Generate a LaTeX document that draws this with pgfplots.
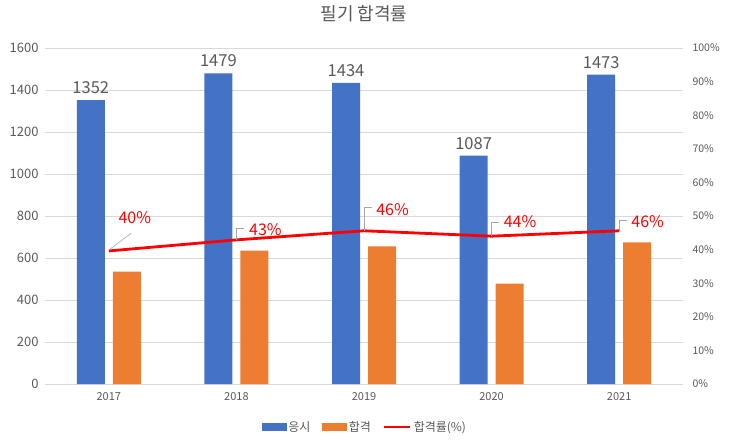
\documentclass[border=0pt]{standalone}
\usepackage{pgfplots}
\pgfplotsset{compat=1.18}
\usepackage{fontspec}
\setmainfont{Noto Sans CJK KR}
\definecolor{cblue}{HTML}{4472C4}
\definecolor{corange}{HTML}{ED7D31}
\definecolor{cred}{HTML}{FF0000}
\definecolor{tgray}{HTML}{595959}
\definecolor{ggray}{HTML}{D9D9D9}
\definecolor{lgray}{HTML}{A6A6A6}
\pgfplotsset{/pgf/number format/1000 sep={}}
\pgfplotstableread{
x  apply pass
0  1352  535
1  1479  635
2  1434  655
3  1087  478
4  1473  675
}\bars
\pgfplotstableread{
x  rate  dx    dy
0  39.6  26    26
1  42.9  29    3
2  45.6  28.5  13.7
3  44.0  28.5  7
4  45.6  28.5  2.0
}\rates
\begin{document}
\begin{tikzpicture}[x=1pt,y=1pt]
\path[use as bounding box] (0,0) rectangle (730,440);
\begin{axis}[
  at={(45pt,56pt)}, anchor=south west, scale only axis,
  width=638pt, height=336pt,
  xmin=-0.5, xmax=4.5, ymin=0, ymax=1600,
  ytick={0,200,...,1600},
  xtick={0,1,2,3,4}, xticklabels={2017,2018,2019,2020,2021},
  axis x line*=bottom, axis y line*=left,
  y axis line style={draw=none},
  x axis line style={draw=ggray, line width=0.8pt},
  major tick length=0pt,
  ymajorgrids, grid style={ggray, line width=0.8pt},
  /pgf/number format/assume math mode=true,
  yticklabel style={font=\fontsize{13}{13}\selectfont, text=tgray, xshift=-3pt},
  xticklabel style={font=\fontsize{11}{11}\selectfont, text=tgray, yshift=-5pt},
  title={필기 합격률},
  title style={at={(0.5,1.083)}, anchor=center, font=\fontsize{18}{18}\selectfont, text=tgray},
  clip=false,
]
\addplot[ybar, bar width=28pt, bar shift=-18pt, fill=cblue, draw=none,
  nodes near coords, point meta=y,
  every node near coord/.append style={font=\fontsize{16.5}{16.5}\selectfont, text=tgray, inner sep=3pt, xshift=-18pt, yshift=3pt}]
  table[x=x, y=apply] {\bars};
\addplot[ybar, bar width=28pt, bar shift=18pt, fill=corange, draw=none]
  table[x=x, y=pass] {\bars};
\end{axis}
\begin{axis}[
  at={(45pt,56pt)}, anchor=south west, scale only axis,
  width=638pt, height=336pt,
  xmin=-0.5, xmax=4.5, ymin=0, ymax=100,
  ytick={0,10,...,100},
  yticklabel={\pgfmathprintnumber{\tick}\%},
  axis x line=none, axis y line*=right,
  y axis line style={draw=none},
  major tick length=0pt,
  /pgf/number format/assume math mode=true,
  yticklabel style={font=\fontsize{10.5}{10.5}\selectfont, text=tgray, xshift=6pt},
  clip=false,
  legend columns=3,
  legend style={at={(0.5016,-0.128)}, anchor=center, draw=none, fill=none,
    font=\fontsize{12}{12}\selectfont, text=tgray,
    /tikz/every even column/.append style={column sep=10pt}},
]
\addlegendimage{legend image code/.code={\fill[cblue] (0pt,-3.4pt) rectangle (24pt,3.4pt);}}
\addlegendimage{legend image code/.code={\fill[corange] (0pt,-3.4pt) rectangle (24pt,3.4pt);}}
\addplot[cred, line width=2.8pt, mark=none,
  legend image code/.code={\draw[cred, line width=2.8pt] (0pt,0pt) -- (26pt,0pt);},
  nodes near coords={\pgfmathprintnumber[fixed,precision=0]{\pgfplotspointmeta}\%},
  point meta=y,
  visualization depends on={\thisrow{dx}\as\dx},
  visualization depends on={\thisrow{dy}\as\dy},
  every node near coord/.append style={font=\fontsize{16}{16}\selectfont, text=cred, inner sep=0pt, xshift=\dx pt, yshift=\dy pt}]
  table[x=x, y=rate] {\rates};
\legend{응시,합격,합격률(\%)}
\draw[lgray, line width=0.6pt] (axis cs:0.012,40.2) -- (axis cs:0.176,44.9);
\draw[lgray, line width=0.6pt] (axis cs:1,42.9) -- (axis cs:1,46.4) -- (axis cs:1.06,46.4);
\draw[lgray, line width=0.6pt] (axis cs:2,45.6) -- (axis cs:2,52.6) -- (axis cs:2.06,52.6);
\draw[lgray, line width=0.6pt] (axis cs:3,44.0) -- (axis cs:3,48.1) -- (axis cs:3.06,48.1);
\draw[lgray, line width=0.6pt] (axis cs:4,45.6) -- (axis cs:4,48.6) -- (axis cs:4.06,48.6);
\end{axis}
\end{tikzpicture}
\end{document}
